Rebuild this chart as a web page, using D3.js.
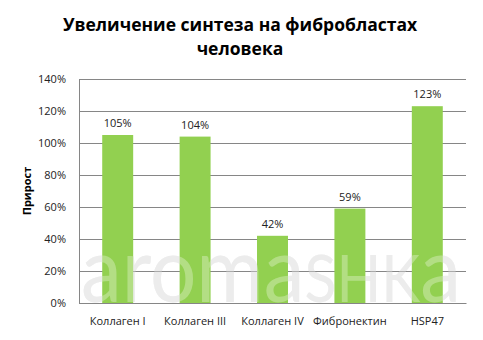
<!DOCTYPE html>
<html>
<head>
<meta charset="utf-8">
<script src="https://cdn.jsdelivr.net/npm/d3@7"></script>
<style>
  html, body { margin: 0; padding: 0; background: #fff; }
  svg { display: block; }
</style>
</head>
<body>
<svg id="chart" width="483" height="340"></svg>
<script>
// Increase in synthesis in human fibroblasts
const titleLines = ["Увеличение синтеза на фибробластах", "человека"];
const axisTitle = "Прирост";
const categories = ["Коллаген I", "Коллаген III", "Коллаген IV", "Фибронектин", "HSP47"];
const values = [105, 104, 42, 59, 123];
const yTicks = [0, 20, 40, 60, 80, 100, 120, 140];

const W = 483, H = 340;
const margin = { left: 79, right: 17, top: 79, bottom: 37 };
const svg = d3.select("#chart");
const FONT = "'Open Sans', Lato, sans-serif";

const x = d3.scaleBand()
  .domain(categories)
  .range([margin.left, W - margin.right])
  .paddingInner(0.6)
  .paddingOuter(0.3);

const y = d3.scaleLinear()
  .domain([0, 140])
  .range([H - margin.bottom, margin.top]);

// watermark glyphs, defined once and placed twice (under and over the bars)
const wm = svg.append("defs").append("text")
  .attr("id", "wm")
  .attr("x", 81)
  .attr("y", 302)
  .attr("font-family", "Lato, sans-serif")
  .attr("font-weight", 400)
  .attr("font-size", 92)
  .attr("textLength", 380)
  .attr("lengthAdjust", "spacingAndGlyphs");
wm.append("tspan").text("aroma");
wm.append("tspan").attr("font-size", 66).text("SHK");
wm.append("tspan").text("a");

svg.append("use").attr("href", "#wm").attr("fill", "#e4e4e4");

// title
svg.append("g").selectAll("text")
  .data(titleLines)
  .join("text")
  .attr("x", 240)
  .attr("y", (d, i) => 31 + i * 24)
  .attr("text-anchor", "middle")
  .attr("font-family", FONT)
  .attr("font-weight", 700)
  .attr("font-size", 17.5)
  .attr("fill", "#000")
  .text(d => d);

// horizontal gridlines + y axis
const yAxis = d3.axisLeft(y)
  .tickValues(yTicks)
  .tickSize(-(W - margin.right - margin.left))
  .tickPadding(13)
  .tickFormat(d => d + "%");

const gy = svg.append("g")
  .attr("transform", `translate(${margin.left},0)`)
  .call(yAxis);
gy.select(".domain").attr("stroke", "#868686").attr("stroke-width", 1);
gy.selectAll(".tick line").attr("stroke", "#868686").attr("stroke-width", 1);
gy.selectAll(".tick text")
  .attr("font-family", FONT)
  .attr("font-size", 11)
  .attr("fill", "#222");

// bars
svg.append("g").selectAll("rect")
  .data(values)
  .join("rect")
  .attr("x", (d, i) => x(categories[i]))
  .attr("y", d => y(d))
  .attr("width", x.bandwidth())
  .attr("height", d => y(0) - y(d))
  .attr("fill", "#92d050");

// the watermark shows faintly over the bars as well
svg.append("use").attr("href", "#wm").attr("fill", "#ffffff").attr("fill-opacity", 0.3);

// value labels
svg.append("g").selectAll("text")
  .data(values)
  .join("text")
  .attr("x", (d, i) => x(categories[i]) + x.bandwidth() / 2)
  .attr("y", d => y(d) - 8)
  .attr("text-anchor", "middle")
  .attr("font-family", FONT)
  .attr("font-size", 11)
  .attr("fill", "#222")
  .text(d => d + "%");

// x axis
const gx = svg.append("g")
  .attr("transform", `translate(0,${H - margin.bottom})`)
  .call(d3.axisBottom(x).tickSize(0).tickPadding(14));
gx.select(".domain").attr("stroke", "#868686").attr("stroke-width", 1);
gx.selectAll(".tick text")
  .attr("font-family", FONT)
  .attr("font-size", 11)
  .attr("fill", "#222");

// y axis title
svg.append("text")
  .attr("transform", `translate(31,${(y(0) + y(140)) / 2}) rotate(-90)`)
  .attr("text-anchor", "middle")
  .attr("font-family", FONT)
  .attr("font-weight", 700)
  .attr("font-size", 11)
  .attr("fill", "#000")
  .text(axisTitle);
</script>
</body>
</html>
